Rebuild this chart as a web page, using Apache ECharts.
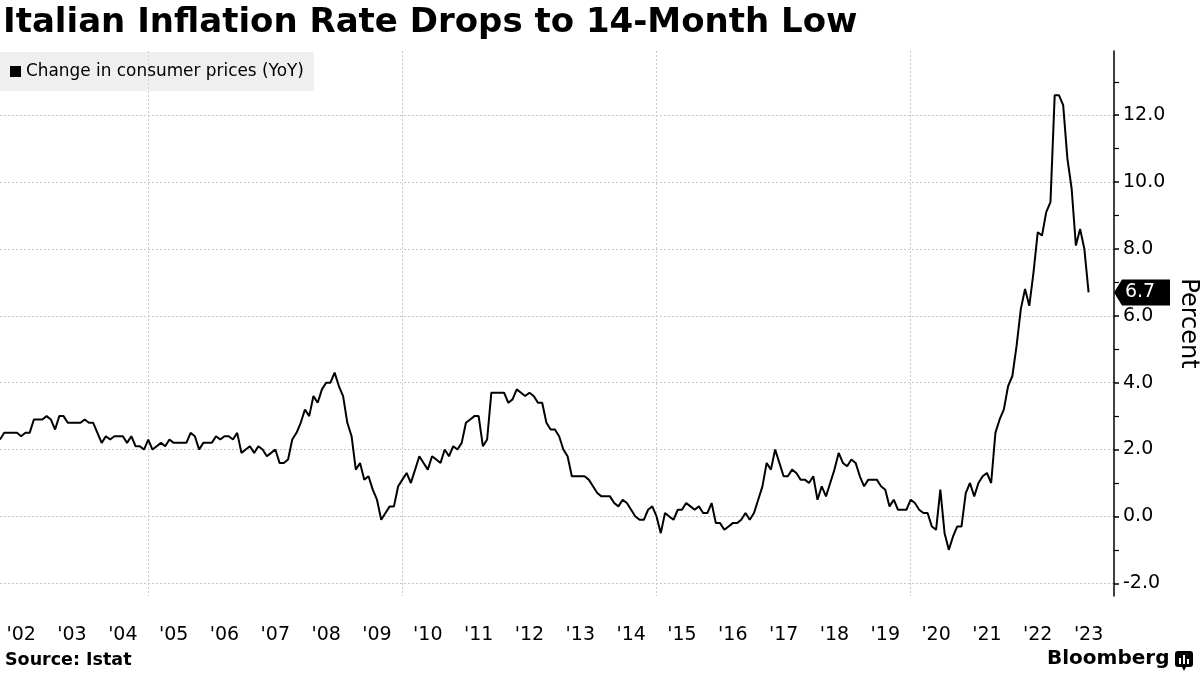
<!DOCTYPE html>
<html>
<head>
<meta charset="utf-8">
<script src="https://cdn.jsdelivr.net/npm/echarts@6/dist/echarts.min.js"></script>
<style>
html,body{margin:0;padding:0;background:#fff;}
#chart{width:1200px;height:675px;}
</style>
</head>
<body>
<div id="chart"></div>
<script>
// Monthly YoY change in consumer prices, Italy (%), Jan 2002 - Jun 2023
const y2002 = [2.3, 2.5, 2.5, 2.5, 2.5, 2.4, 2.5, 2.5, 2.9, 2.9, 2.9, 3.0];
const y2003 = [2.9, 2.6, 3.0, 3.0, 2.8, 2.8, 2.8, 2.8, 2.9, 2.8, 2.8, 2.5];
const y2004 = [2.2, 2.4, 2.3, 2.4, 2.4, 2.4, 2.2, 2.4, 2.1, 2.1, 2.0, 2.3];
const y2005 = [2.0, 2.1, 2.2, 2.1, 2.3, 2.2, 2.2, 2.2, 2.2, 2.5, 2.4, 2.0];
const y2006 = [2.2, 2.2, 2.2, 2.4, 2.3, 2.4, 2.4, 2.3, 2.5, 1.9, 2.0, 2.1];
const y2007 = [1.9, 2.1, 2.0, 1.8, 1.9, 2.0, 1.6, 1.6, 1.7, 2.3, 2.5, 2.8];
const y2008 = [3.2, 3.0, 3.6, 3.4, 3.8, 4.0, 4.0, 4.3, 3.9, 3.6, 2.8, 2.4];
const y2009 = [1.4, 1.6, 1.1, 1.2, 0.8, 0.5, -0.1, 0.1, 0.3, 0.3, 0.9, 1.1];
const y2010 = [1.3, 1.0, 1.4, 1.8, 1.6, 1.4, 1.8, 1.7, 1.6, 2.0, 1.8, 2.1];
const y2011 = [2.0, 2.2, 2.8, 2.9, 3.0, 3.0, 2.1, 2.3, 3.7, 3.7, 3.7, 3.7];
const y2012 = [3.4, 3.5, 3.8, 3.7, 3.6, 3.7, 3.6, 3.4, 3.4, 2.8, 2.6, 2.6];
const y2013 = [2.4, 2.0, 1.8, 1.2, 1.2, 1.2, 1.2, 1.1, 0.9, 0.7, 0.6, 0.6];
const y2014 = [0.6, 0.4, 0.3, 0.5, 0.4, 0.2, 0.0, -0.1, -0.1, 0.2, 0.3, 0.0];
const y2015 = [-0.5, 0.1, 0.0, -0.1, 0.2, 0.2, 0.4, 0.3, 0.2, 0.3, 0.1, 0.1];
const y2016 = [0.4, -0.2, -0.2, -0.4, -0.3, -0.2, -0.2, -0.1, 0.1, -0.1, 0.1, 0.5];
const y2017 = [0.9, 1.6, 1.4, 2.0, 1.6, 1.2, 1.2, 1.4, 1.3, 1.1, 1.1, 1.0];
const y2018 = [1.2, 0.5, 0.9, 0.6, 1.0, 1.4, 1.9, 1.6, 1.5, 1.7, 1.6, 1.2];
const y2019 = [0.9, 1.1, 1.1, 1.1, 0.9, 0.8, 0.3, 0.5, 0.2, 0.2, 0.2, 0.5];
const y2020 = [0.4, 0.2, 0.1, 0.1, -0.3, -0.4, 0.8, -0.5, -1.0, -0.6, -0.3, -0.3];
const y2021 = [0.7, 1.0, 0.6, 1.0, 1.2, 1.3, 1.0, 2.5, 2.9, 3.2, 3.9, 4.2];
const y2022 = [5.1, 6.2, 6.8, 6.3, 7.3, 8.5, 8.4, 9.1, 9.4, 12.6, 12.6, 12.3];
const y2023 = [10.7, 9.8, 8.1, 8.6, 8.0, 6.7];

const startYear = 2002;
const endYear = 2023;           // axis runs to the end of this year
const yMajorTicks = [-2, 0, 2, 4, 6, 8, 10, 12];
const yMinorTicks = [-1, 1, 3, 5, 7, 9, 11, 13];
const seriesName = 'Change in consumer prices (YoY)';

const values = [].concat(y2002, y2003, y2004, y2005, y2006, y2007, y2008, y2009,
  y2010, y2011, y2012, y2013, y2014, y2015, y2016, y2017, y2018, y2019,
  y2020, y2021, y2022, y2023);

// month categories (each point sits at the end of its month)
const categories = [];
for (let y = startYear; y <= endYear; y++) {
  for (let m = 1; m <= 12; m++) categories.push(y + '-' + (m < 10 ? '0' + m : m));
}
const lastValue = values[values.length - 1];

const FONT = 'DejaVu Sans';
const chart = echarts.init(document.getElementById('chart'), null, {renderer: 'canvas'});

chart.setOption({
  animation: false,
  backgroundColor: '#fff',
  textStyle: {fontFamily: FONT},
  title: {
    text: 'Italian Inflation Rate Drops to 14-Month Low',
    left: -2, top: 1,
    textStyle: {fontFamily: FONT, fontSize: 34, fontWeight: 'bold', color: '#000'}
  },
  legend: {
    left: 0, top: 52,
    padding: [11, 10, 11, 10],
    backgroundColor: 'rgba(225,225,225,0.55)',
    icon: 'rect', itemWidth: 11, itemHeight: 11, itemGap: 10,
    textStyle: {fontFamily: FONT, fontSize: 16.9, color: '#000'},
    data: [seriesName]
  },
  grid: {left: 0, right: 86, top: 51, bottom: 79, containLabel: false, outerBoundsMode: 'none'},
  xAxis: {
    type: 'category',
    data: categories,
    boundaryGap: false,
    axisLine: {show: false},
    axisTick: {show: false},
    axisLabel: {
      interval: function (idx) { return idx % 12 === 5; },
      formatter: function (v) { return "'" + v.slice(2, 4); },
      fontFamily: FONT, fontSize: 19, color: '#000', margin: 30
    },
    splitLine: {
      show: true,
      interval: function (idx) { return idx % 60 === 35; },
      lineStyle: {color: '#c8c8c8', type: [2, 2], width: 1}
    }
  },
  yAxis: [{
    type: 'value',
    position: 'right',
    min: -2.38, max: 13.92,
    name: 'Percent',
    nameLocation: 'middle',
    nameRotate: -90,
    nameGap: 61,
    nameTextStyle: {fontFamily: FONT, fontSize: 24, color: '#000'},
    axisLine: {show: true, lineStyle: {color: '#000', width: 1.5}},
    axisTick: {show: true, customValues: yMajorTicks, length: 5, inside: false, lineStyle: {color: '#000', width: 1.5}},
    axisLabel: {
      customValues: yMajorTicks,
      formatter: function (v) { return v.toFixed(1); },
      fontFamily: FONT, fontSize: 19, color: '#000', margin: 9
    },
    splitLine: {show: true, lineStyle: {color: '#c8c8c8', type: [2, 2], width: 1}}
  }, {
    type: 'value',
    position: 'right',
    min: -2.38, max: 13.92,
    axisLine: {show: false},
    axisTick: {show: true, customValues: yMinorTicks, length: 5, lineStyle: {color: '#000', width: 1.2}},
    axisLabel: {show: false},
    splitLine: {show: false}
  }],
  series: [{
    name: seriesName,
    type: 'line',
    yAxisIndex: 0,
    data: values,
    showSymbol: false,
    symbol: 'none',
    color: '#000',
    lineStyle: {color: '#000', width: 2},
    clip: false,
    markPoint: {
      symbol: 'path://M0,13 L8,0 L56,0 L56,26 L8,26 Z',
      symbolSize: [56, 26],
      symbolKeepAspect: false,
      symbolOffset: [28, 0],
      itemStyle: {color: '#000'},
      label: {
        show: true, position: 'inside', offset: [-2, 0],
        color: '#fff', fontFamily: FONT, fontSize: 19,
        formatter: function (p) { return p.value.toFixed(1); }
      },
      data: [{coord: [categories[categories.length - 1], lastValue], value: lastValue}]
    }
  }],
  graphic: [
    {type: 'text', left: 5, top: 651,
     style: {text: 'Source: Istat', font: 'bold 17.5px "DejaVu Sans"', fill: '#000'}},
    {type: 'text', left: 1047, top: 649,
     style: {text: 'Bloomberg', font: 'bold 20px "DejaVu Sans"', fill: '#000'}},
    {type: 'group', left: 1175, top: 651, children: [
      {type: 'rect', shape: {x: 0, y: 0, width: 18, height: 16, r: 3}, style: {fill: '#000'}},
      {type: 'polygon', shape: {points: [[7, 16], [11, 16], [9, 20]]}, style: {fill: '#000'}},
      {type: 'rect', shape: {x: 4, y: 7, width: 2, height: 6}, style: {fill: '#fff'}},
      {type: 'rect', shape: {x: 8, y: 4, width: 2, height: 9}, style: {fill: '#fff'}},
      {type: 'rect', shape: {x: 12, y: 8, width: 2, height: 5}, style: {fill: '#fff'}}
    ]}
  ]
});
</script>
</body>
</html>
